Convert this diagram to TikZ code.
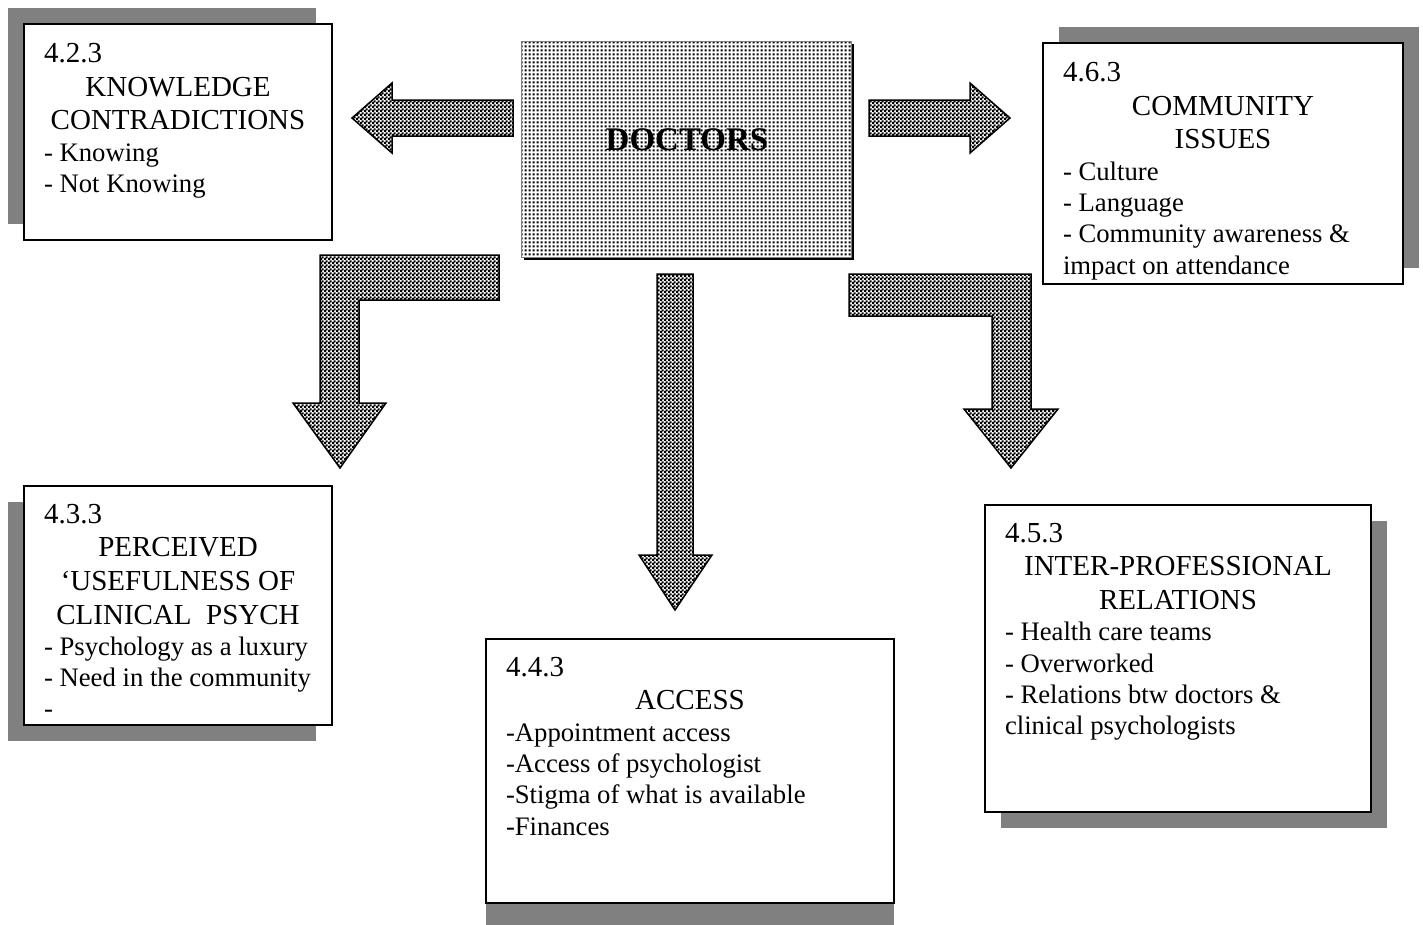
\documentclass[tikz,border=0pt]{standalone}
\usepackage{fontspec}
\setmainfont{Liberation Serif}
\usetikzlibrary{patterns,shadows}

\pgfdeclarepatternformonly{doctordots}{\pgfqpoint{0pt}{0pt}}{\pgfqpoint{4pt}{4pt}}{\pgfqpoint{4pt}{4pt}}{%
  \pgfpathrectangle{\pgfqpoint{0.8pt}{0.8pt}}{\pgfqpoint{2.4pt}{2.4pt}}\pgfusepath{fill}}
\pgfdeclarepatternformonly{arrowchecks}{\pgfqpoint{0pt}{0pt}}{\pgfqpoint{4pt}{4pt}}{\pgfqpoint{4pt}{4pt}}{%
  \pgfpathrectangle{\pgfqpoint{0pt}{0pt}}{\pgfqpoint{2.6pt}{2.6pt}}%
  \pgfpathrectangle{\pgfqpoint{2pt}{2pt}}{\pgfqpoint{2.6pt}{2.6pt}}\pgfusepath{fill}}

\newcommand\headsize{\fontsize{29}{33.6}\selectfont}
\newcommand\itemsize{\fontsize{26.7}{31.3}\selectfont}
\newcommand\themetext[3]{\parbox[t][#2pt][t]{#1pt}{\raggedright#3}}

\tikzset{
  themebox/.style={draw, line width=1.6pt, fill=white, anchor=north west,
    inner xsep=20pt, inner ysep=18pt, outer sep=0pt},
  boxshadow/.style n args={2}{drop shadow={shadow xshift=#1, shadow yshift=#2,
    opacity=1, fill=gray}},
  doctorbox/.style={anchor=north west, minimum width=330pt, minimum height=216pt,
    outer sep=0pt, inner sep=0pt,
    drop shadow={shadow xshift=2.5pt, shadow yshift=-2.5pt, opacity=1, fill=black},
    preaction={fill=white}, draw=gray, line width=1pt, pattern=doctordots},
  blockarrow/.style={draw, line width=1.5pt, line join=miter, pattern=arrowchecks}
}

\begin{document}
\begin{tikzpicture}[x=1pt,y=-1pt]
  \useasboundingbox (0,0) rectangle (1423,924);

  % centre
  \node [doctorbox] (doctors) at (521,41) {};
  \node [font=\fontsize{33}{36}\selectfont\bfseries] (doctorsname) at (687,140) {DOCTORS};

  % themes
  \node [themebox, inner ysep=19.5pt, boxshadow={-16pt}{16pt}] (know) at (24,24) {\themetext{268}{177}{%
    \headsize 4.2.3\par
    {\centering KNOWLEDGE\\CONTRADICTIONS\par}
    \itemsize - Knowing\\- Not Knowing}};

  \node [themebox, inner ysep=19.5pt, boxshadow={16pt}{16pt}] (comm) at (1043,43) {\themetext{320}{202}{%
    \headsize 4.6.3\par
    {\centering COMMUNITY\\ISSUES\par}
    \itemsize - Culture\\- Language\\- Community awareness \&\\impact on attendance}};

  \node [themebox, boxshadow={-16pt}{-16pt}] (perc) at (24,486) {\themetext{268}{203}{%
    \headsize 4.3.3\par
    {\centering PERCEIVED\\‘USEFULNESS OF\\CLINICAL\ \ PSYCH\par}
    \itemsize - Psychology as a luxury\\- Need in the community\\-}};

  \node [themebox, boxshadow={0pt}{-22pt}] (access) at (486,639) {\themetext{368}{228}{%
    \headsize 4.4.3\par
    {\centering ACCESS\par}
    \itemsize -Appointment access\\-Access of psychologist\\-Stigma of what is available\\-Finances}};

  \node [themebox, boxshadow={16pt}{-16pt}] (inter) at (985,505) {\themetext{346}{271}{%
    \headsize 4.5.3\par
    {\centering INTER-PROFESSIONAL\\RELATIONS\par}
    \itemsize - Health care teams\\- Overworked\\- Relations btw doctors \&\\clinical psychologists}};

  % block arrows
  \draw [blockarrow] (513,100) -- (392,100) -- (392,83) -- (352,118) -- (392,153)
    -- (392,136) -- (513,136) -- cycle;
  \draw [blockarrow] (869,100) -- (970,100) -- (970,83) -- (1010,118) -- (970,153)
    -- (970,136) -- (869,136) -- cycle;
  \draw [blockarrow] (657,274) -- (693,274) -- (693,555) -- (712,555) -- (675,610)
    -- (639,555) -- (657,555) -- cycle;
  \draw [blockarrow] (499,255) -- (320,255) -- (320,403) -- (293,403) -- (340,468)
    -- (386,403) -- (359,403) -- (359,300) -- (499,300) -- cycle;
  \draw [blockarrow] (849,274) -- (1031,274) -- (1031,409) -- (1058,409) -- (1011,468)
    -- (964,409) -- (992,409) -- (992,316) -- (849,316) -- cycle;
\end{tikzpicture}
\end{document}
